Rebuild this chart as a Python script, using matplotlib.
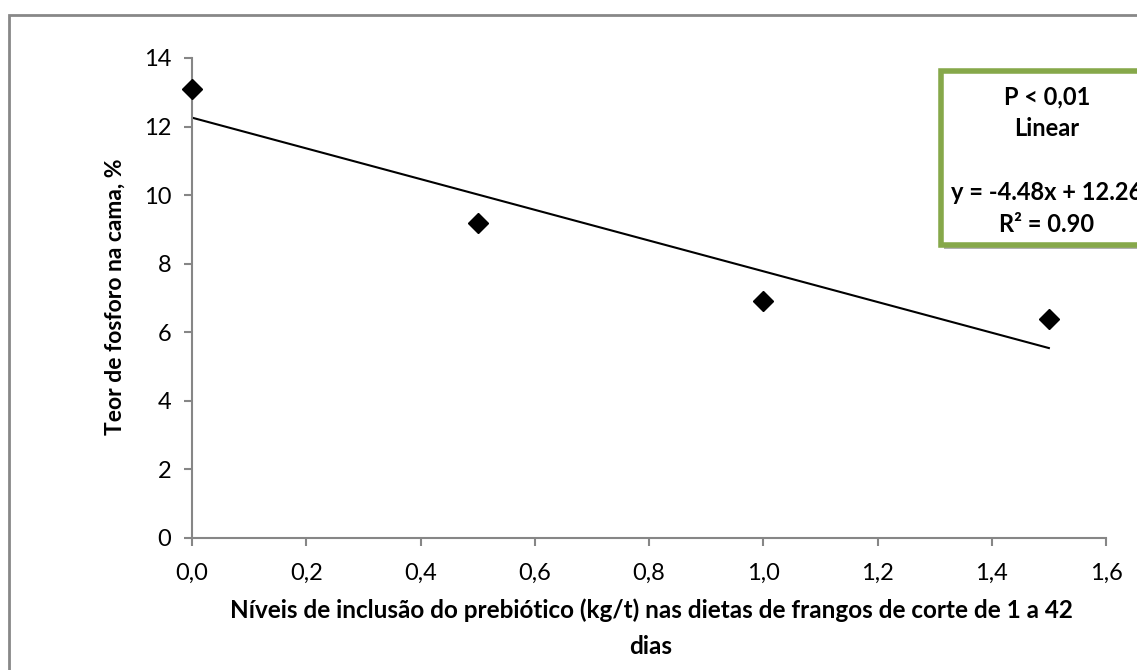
import matplotlib.pyplot as plt
from matplotlib.patches import Rectangle
import numpy as np

plt.rcParams['font.family'] = ['Lato', 'DejaVu Sans']

# prebiotic inclusion (kg/t) and phosphorus content in litter (%)
levels = [0.0, 0.5, 1.0, 1.5]
phosphorus = [13.1, 9.2, 6.9, 6.4]
slope = -4.48
intercept = 12.26
r2 = 0.90
x_ticks = [0.0, 0.2, 0.4, 0.6, 0.8, 1.0, 1.2, 1.4, 1.6]
y_ticks = [0, 2, 4, 6, 8, 10, 12, 14]

W, H = 1137, 670
fig = plt.figure(figsize=(W / 100, H / 100), dpi=100)
ax = fig.add_axes([192 / W, 1 - 538 / H, (1106 - 192) / W, (538 - 58) / H])

grey = '#868686'

# trend line
xl = np.array([levels[0], levels[-1]])
ax.plot(xl, slope * xl + intercept, color='black', lw=1.5, zorder=2)
ax.plot(levels, phosphorus, linestyle='none', marker='D', markersize=10,
        color='black', zorder=3, clip_on=False)

ax.set_xlim(0, 1.6)
ax.set_ylim(0, 14)
ax.set_xticks(x_ticks)
ax.set_xticklabels([f'{v:.1f}'.replace('.', ',') for v in x_ticks])
ax.set_yticks(y_ticks)
for side in ['top', 'right']:
    ax.spines[side].set_visible(False)
for side in ['left', 'bottom']:
    ax.spines[side].set_color(grey)
    ax.spines[side].set_linewidth(1.5)
ax.tick_params(direction='out', length=6, width=1.5, color=grey,
               labelsize=17, labelcolor='black')
ax.tick_params(axis='x', pad=12)
ax.tick_params(axis='y', pad=9)

# axis titles
fig.text(651 / W, 1 - 610 / H,
         'Níveis de inclusão do prebiótico (kg/t) nas dietas de frangos de corte de 1 a 42',
         ha='center', va='center', fontsize=17.5, fontweight='bold')
fig.text(651 / W, 1 - 647 / H, 'dias', ha='center', va='center',
         fontsize=17.5, fontweight='bold')
fig.text(115 / W, 1 - 297 / H, 'Teor de fosforo na cama, %', ha='center',
         va='center', rotation=90, fontsize=16.5, fontweight='bold')

# outer chart border
fig.patches.append(Rectangle((9 / W, -0.1), 1.2, 1 - 15 / H + 0.1,
                             transform=fig.transFigure, fill=False,
                             edgecolor='#888888', lw=2))

# equation box
fig.patches.append(Rectangle((944 / W, 1 - 249 / H), 0.2, 174 / H,
                             transform=fig.transFigure, facecolor='#b0b0b0',
                             edgecolor='none', zorder=4))
fig.patches.append(Rectangle((941 / W, 1 - 245 / H), 0.2, 174 / H,
                             transform=fig.transFigure, facecolor='white',
                             edgecolor='#86a84a', lw=4, zorder=5))
box_lines = [('P < 0,01', 97), ('Linear', 128),
             (f'y = {slope}x + {intercept}', 193), (f'R² = {r2:.2f}', 225)]
for txt, ypix in box_lines:
    fig.text(1047 / W, 1 - ypix / H, txt, ha='center', va='center',
             fontsize=17, fontweight='bold', zorder=6)

fig.savefig('out.png', dpi=100)
